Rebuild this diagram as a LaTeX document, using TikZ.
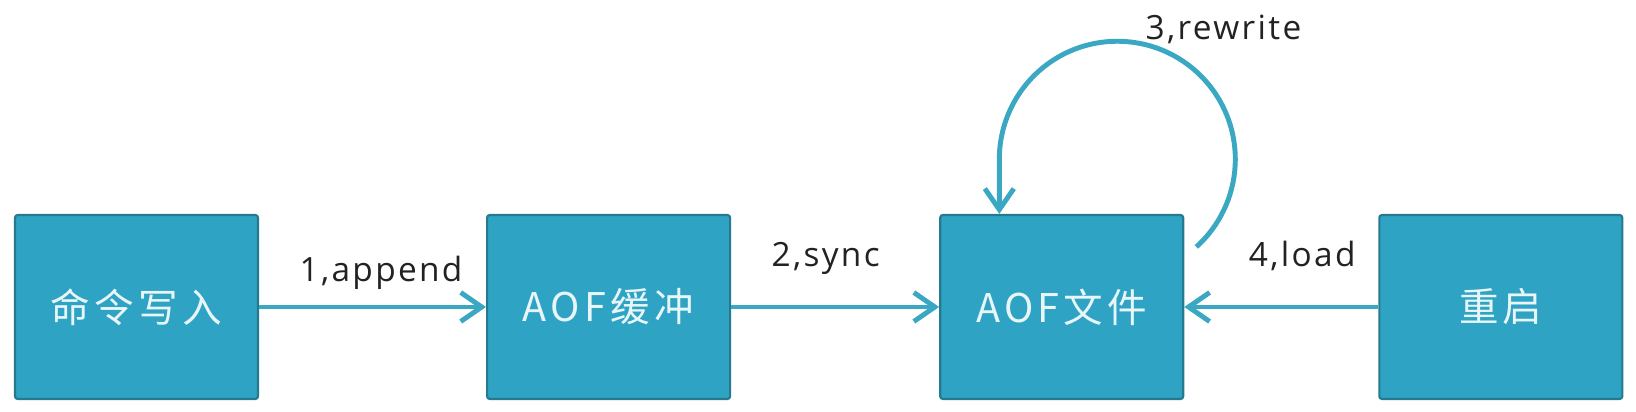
\documentclass[tikz,border=0pt]{standalone}
\usepackage{fontspec}
\setmainfont{Open Sans}
\newfontfamily\cjkfont[LetterSpace=11]{Noto Sans CJK SC}
\newfontfamily\labelfont[LetterSpace=7]{Open Sans}
\usetikzlibrary{positioning}
\usetikzlibrary{arrows.meta}
\definecolor{boxfill}{RGB}{46,163,196}
\definecolor{boxline}{RGB}{38,122,143}
\definecolor{boxtext}{RGB}{232,246,249}
\definecolor{edgecol}{RGB}{58,168,195}
\definecolor{labeltext}{RGB}{34,34,34}
\tikzset{
  flow_node/.style = {rectangle, draw=boxline, fill=boxfill, line width=1.2pt,
    rounded corners=1.5pt, minimum width=4.86cm, minimum height=3.68cm,
    text=boxtext, font=\cjkfont\fontsize{22.5}{26}\selectfont},% boite
  flow_edge/.style = {draw=edgecol, line width=2.8pt,
    -{Straight Barb[length=0.42cm, width=0.58cm]}},% fleche
  edge_label/.style = {font=\labelfont\fontsize{19}{22}\selectfont,
    text=labeltext, anchor=base}% etiquette
}
\begin{document}
\begin{tikzpicture}
      \useasboundingbox (0,0) rectangle (32.72,8.24);
      \node [flow_node] (cmd) at (2.73,2.10) {命令写入};
      \node [flow_node, right=4.54cm of cmd] (buf) {AOF缓冲};
      \node [flow_node, right=4.16cm of buf] (aof) {AOF文件};
      \node [flow_node, right=3.88cm of aof] (restart) {重启};
      \draw [flow_edge] (cmd) -- node [edge_label, xshift=0.17cm, yshift=0.5cm] {1,append} (buf);
      \draw [flow_edge] (buf) -- node [edge_label, xshift=-0.19cm, yshift=0.8cm] {2,sync} (aof);
      \draw [flow_edge] (restart) -- node [edge_label, xshift=0.42cm, yshift=0.8cm] {4,load} (aof);
      \draw [flow_edge] ([xshift=0.24cm, yshift=-0.66cm]aof.north east)
          arc [start angle=-48, end angle=180, radius=2.36cm] coordinate (loop_end)
          -- (loop_end |- aof.north);
      \node [edge_label] (rewrite) at (24.47,7.44) {3,rewrite};
    \end{tikzpicture}
\end{document}
